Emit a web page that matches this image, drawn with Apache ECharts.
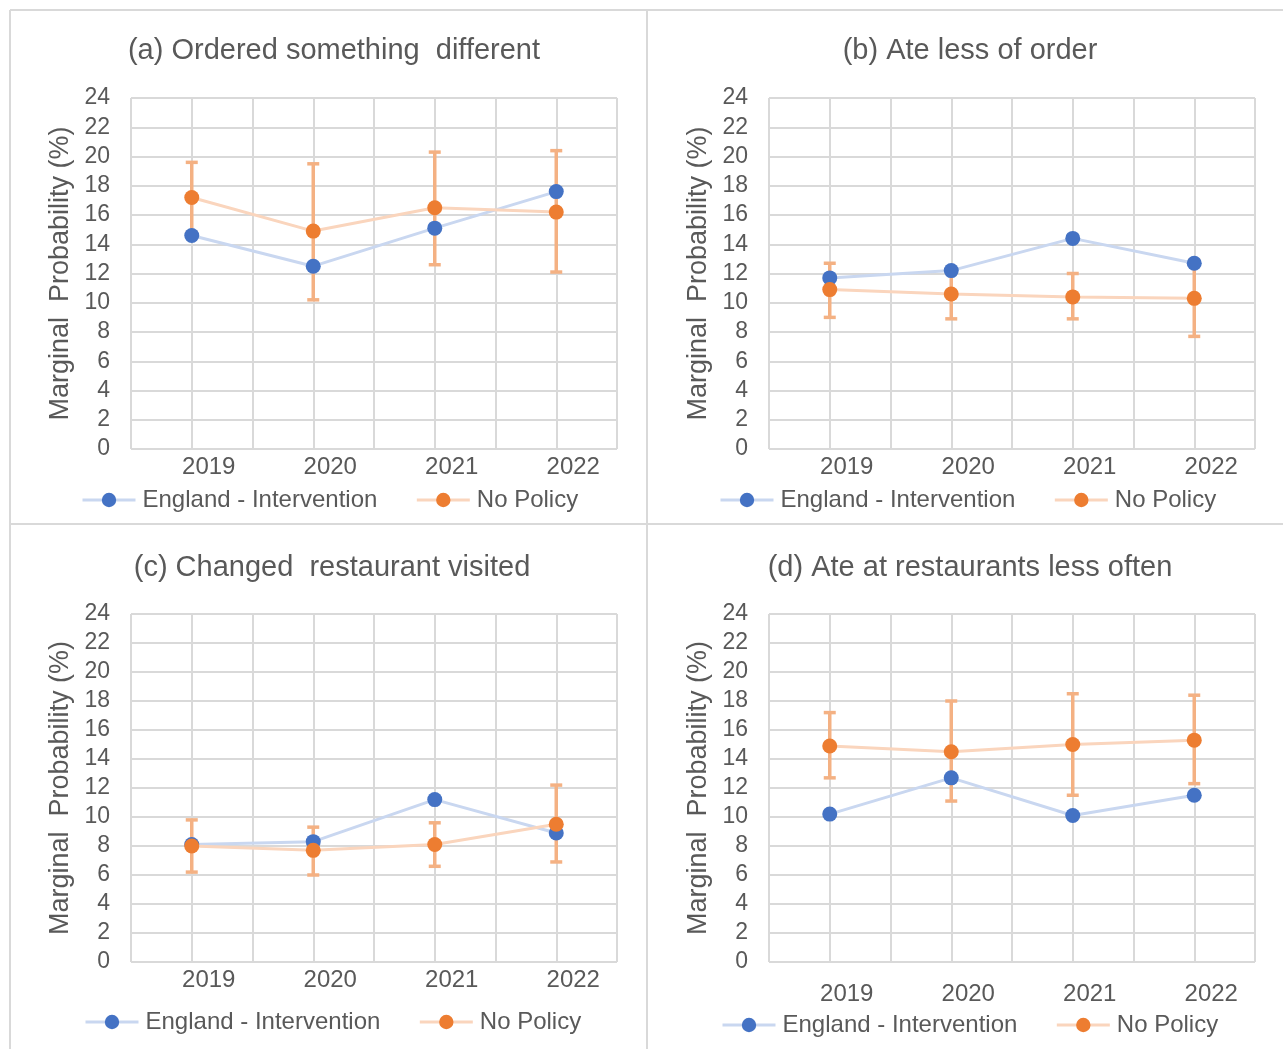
<!DOCTYPE html>
<html><head><meta charset="utf-8">
<script src="https://cdn.jsdelivr.net/npm/echarts@6/dist/echarts.min.js"></script>
<style>html,body{margin:0;padding:0;background:#fff}#c{width:1283px;height:1049px}</style>
</head><body><div id="c"></div>
<script>
// ---- data ----
const years = ['2019', '2020', '2021', '2022'];
const seriesNames = ['England - Intervention', 'No Policy'];
const yAxisName = 'Marginal  Probability (%)';
const titles = ['(a) Ordered something  different', '(b) Ate less of order', '(c) Changed  restaurant visited', '(d) Ate at restaurants less often'];
const yMin = 0, yMax = 24, yStep = 2;

const englandA = [14.6, 12.5, 15.1, 17.6];
const noPolicyA = [17.2, 14.9, 16.5, 16.2];
const noPolicyLowA = [14.8, 10.2, 12.6, 12.1];
const noPolicyHighA = [19.6, 19.5, 20.3, 20.4];

const englandB = [11.7, 12.2, 14.4, 12.7];
const noPolicyB = [10.9, 10.6, 10.4, 10.3];
const noPolicyLowB = [9.0, 8.9, 8.9, 7.7];
const noPolicyHighB = [12.7, 12.3, 12.0, 12.9];

const englandC = [8.1, 8.3, 11.2, 8.9];
const noPolicyC = [8.0, 7.7, 8.1, 9.5];
const noPolicyLowC = [6.2, 6.0, 6.6, 6.9];
const noPolicyHighC = [9.8, 9.3, 9.6, 12.2];

const englandD = [10.2, 12.7, 10.1, 11.5];
const noPolicyD = [14.9, 14.5, 15.0, 15.3];
const noPolicyLowD = [12.7, 11.1, 11.5, 12.3];
const noPolicyHighD = [17.2, 18.0, 18.5, 18.4];

// ---- layout / style ----
const panels = [
  {eng: englandA, np: noPolicyA, lo: noPolicyLowA, hi: noPolicyHighA,
   grid: {left: 131, top: 98, width: 486, height: 351}, titleX: 329, titleY: 31, legend: {left: 76, top: 483}, xMargin: 6},
  {eng: englandB, np: noPolicyB, lo: noPolicyLowB, hi: noPolicyHighB,
   grid: {left: 769, top: 98, width: 486, height: 351}, titleX: 965, titleY: 31, legend: {left: 714, top: 483}, xMargin: 6},
  {eng: englandC, np: noPolicyC, lo: noPolicyLowC, hi: noPolicyHighC,
   grid: {left: 131, top: 614, width: 486, height: 348}, titleX: 327, titleY: 548, legend: {left: 79, top: 1005}, xMargin: 6},
  {eng: englandD, np: noPolicyD, lo: noPolicyLowD, hi: noPolicyHighD,
   grid: {left: 769, top: 614, width: 486, height: 348}, titleX: 965, titleY: 548, legend: {left: 716, top: 1008}, xMargin: 20}
];
const TXT = '#595959';
const GRID = '#D9D9D9';
const BLUE = '#4472C4', BLUE_LINE = '#C9D7F0';
const ORANGE = '#ED7D31', ORANGE_LINE = '#FAD5BD', ERR = '#F4B183';
const FONT = '"Liberation Sans", Arial, sans-serif';

const option = {
  backgroundColor: '#fff',
  animation: false,
  title: [], legend: [], grid: [], xAxis: [], yAxis: [], series: [],
  graphic: [
    {type: 'line', shape: {x1: 10, y1: 10, x2: 1283, y2: 10}, style: {stroke: GRID, lineWidth: 2}},
    {type: 'line', shape: {x1: 10, y1: 10, x2: 10, y2: 1049}, style: {stroke: GRID, lineWidth: 2}},
    {type: 'line', shape: {x1: 647, y1: 10, x2: 647, y2: 1049}, style: {stroke: GRID, lineWidth: 2}},
    {type: 'line', shape: {x1: 10, y1: 524, x2: 1283, y2: 524}, style: {stroke: GRID, lineWidth: 2}}
  ]
};

panels.forEach((p, i) => {
  option.title.push({text: titles[i], left: p.titleX, top: p.titleY, textAlign: 'center',
    textStyle: {fontFamily: FONT, fontSize: 29, fontWeight: 'normal', color: TXT}});
  option.legend.push({data: seriesNames, left: p.legend.left, top: p.legend.top, itemWidth: 53, itemHeight: 18, itemGap: 38,
    lineStyle: {width: 3},
    textStyle: {fontFamily: FONT, fontSize: 24, color: TXT, padding: [0, 0, 0, 2]}});
  option.grid.push(Object.assign({containLabel: false}, p.grid));
  option.xAxis.push({type: 'value', gridIndex: i, min: -0.5, max: 3.5, interval: 0.5,
    axisLine: {show: false}, axisTick: {show: false},
    splitLine: {show: true, lineStyle: {color: GRID, width: 2}},
    axisLabel: {fontFamily: FONT, fontSize: 24, color: TXT, margin: p.xMargin, padding: [0, 0, 0, 34],
      formatter: v => (Math.abs(v - Math.round(v)) < 1e-9 && v >= 0 && v < years.length) ? years[Math.round(v)] : ''}});
  option.yAxis.push({type: 'value', gridIndex: i, min: yMin, max: yMax, interval: yStep,
    name: yAxisName, nameLocation: 'middle', nameGap: 57,
    nameTextStyle: {fontFamily: FONT, fontSize: 27, color: TXT},
    axisLine: {show: false}, axisTick: {show: false},
    splitLine: {show: true, lineStyle: {color: GRID, width: 2}},
    axisLabel: {fontFamily: FONT, fontSize: 23, color: TXT, margin: 21}});
  option.series.push({
    type: 'custom', name: 'CI', xAxisIndex: i, yAxisIndex: i, z: 1,
    data: years.map((y, k) => [k, p.lo[k], p.hi[k]]),
    encode: {x: 0, y: [1, 2]},
    renderItem: (params, api) => {
      const x = api.value(0);
      const a = api.coord([x, api.value(1)]);
      const b = api.coord([x, api.value(2)]);
      const w = 6;
      const st = {stroke: ERR, lineWidth: 3.5};
      return {type: 'group', children: [
        {type: 'line', shape: {x1: a[0], y1: a[1], x2: b[0], y2: b[1]}, style: st},
        {type: 'line', shape: {x1: a[0] - w, y1: a[1], x2: a[0] + w, y2: a[1]}, style: st},
        {type: 'line', shape: {x1: b[0] - w, y1: b[1], x2: b[0] + w, y2: b[1]}, style: st}
      ]};
    }
  });
  option.series.push({
    type: 'line', name: seriesNames[0], xAxisIndex: i, yAxisIndex: i, z: 2,
    data: p.eng.map((v, k) => [k, v]),
    symbol: 'circle', symbolSize: 15,
    itemStyle: {color: BLUE}, lineStyle: {color: BLUE_LINE, width: 3}
  });
  option.series.push({
    type: 'line', name: seriesNames[1], xAxisIndex: i, yAxisIndex: i, z: 3,
    data: p.np.map((v, k) => [k, v]),
    symbol: 'circle', symbolSize: 15,
    itemStyle: {color: ORANGE}, lineStyle: {color: ORANGE_LINE, width: 3}
  });
});

const chart = echarts.init(document.getElementById('c'), null, {renderer: 'canvas'});
chart.setOption(option);
</script></body></html>
